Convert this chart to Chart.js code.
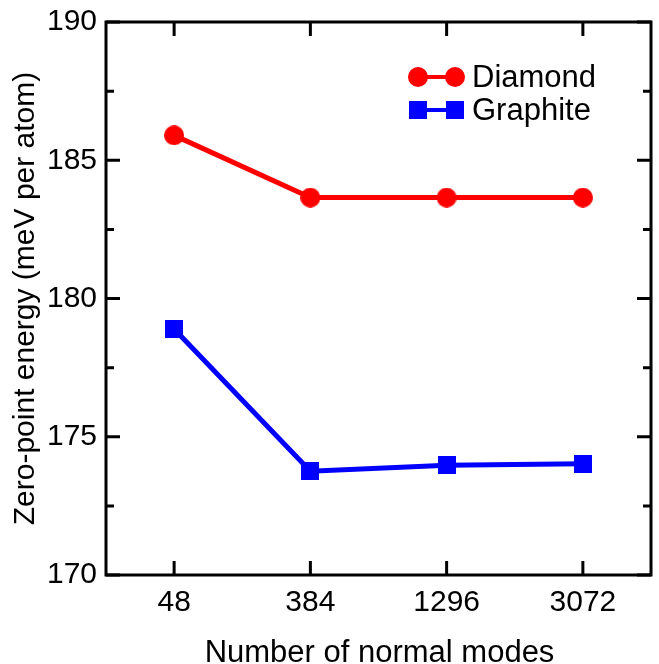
<!DOCTYPE html>
<html>
<head>
<meta charset="utf-8">
<style>
  html, body { margin: 0; padding: 0; background: #fff; }
  #wrap { width: 659px; height: 664px; }
</style>
<script src="https://cdn.jsdelivr.net/npm/chart.js@4/dist/chart.umd.min.js"></script>
</head>
<body>
<div id="wrap"><canvas id="c" width="659" height="664"></canvas></div>
<script>
const modes = ['48', '384', '1296', '3072'];
const diamond = [185.9, 183.65, 183.65, 183.65];
const graphite = [178.9, 173.75, 173.97, 174.02];
const yTicks = [170, 175, 180, 185, 190];

const FONT = '"Liberation Sans", Arial, Helvetica, sans-serif';

// marker images (a big pointRadius would shrink the plot area)
function marker(shape, color, size) {
  const c = document.createElement('canvas');
  c.width = size; c.height = size;
  const g = c.getContext('2d');
  g.fillStyle = color;
  if (shape === 'circle') {
    g.beginPath(); g.arc(size / 2, size / 2, size / 2, 0, Math.PI * 2); g.fill();
  } else {
    g.fillRect(0, 0, size, size);
  }
  return c;
}
const redDot = marker('circle', '#ff0000', 20);
const blueSquare = marker('square', '#0000ff', 18);

// box, inward ticks, axis titles and the legend inside the plot
const framePlugin = {
  id: 'frame',
  afterDraw(chart) {
    const ctx = chart.ctx;
    const a = chart.chartArea;
    const x = chart.scales.x, y = chart.scales.y;
    ctx.save();
    ctx.strokeStyle = '#000';
    ctx.lineWidth = 3;
    ctx.strokeRect(a.left, a.top, a.right - a.left, a.bottom - a.top);

    ctx.beginPath();
    for (let v = 170; v <= 190; v += 2.5) {
      const py = y.getPixelForValue(v);
      const len = (v % 5 === 0) ? 14 : 8;
      ctx.moveTo(a.left, py); ctx.lineTo(a.left + len, py);
      ctx.moveTo(a.right, py); ctx.lineTo(a.right - len, py);
    }
    modes.forEach((m, i) => {
      const px = x.getPixelForValue(i);
      ctx.moveTo(px, a.bottom); ctx.lineTo(px, a.bottom - 14);
      ctx.moveTo(px, a.top); ctx.lineTo(px, a.top + 14);
    });
    ctx.stroke();

    // axis titles
    ctx.fillStyle = '#000';
    ctx.textAlign = 'center';
    ctx.textBaseline = 'alphabetic';
    ctx.font = '31px ' + FONT;
    ctx.fillText('Number of normal modes', (a.left + a.right) / 2 + 1, 662);

    ctx.save();
    ctx.translate(34, (a.top + a.bottom) / 2);
    ctx.rotate(-Math.PI / 2);
    ctx.font = '30px ' + FONT;
    ctx.fillText('Zero-point energy (meV per atom)', 0, 0);
    ctx.restore();

    // legend
    const items = [
      { label: 'Diamond', color: '#ff0000', img: redDot },
      { label: 'Graphite', color: '#0000ff', img: blueSquare }
    ];
    const lx0 = a.left + 312, lx1 = a.left + 349;
    items.forEach((it, i) => {
      const ly = a.top + 55 + i * 33;
      ctx.strokeStyle = it.color;
      ctx.lineWidth = 4;
      ctx.beginPath();
      ctx.moveTo(lx0, ly); ctx.lineTo(lx1, ly);
      ctx.stroke();
      [lx0, lx1].forEach(px => {
        ctx.drawImage(it.img, px - it.img.width / 2, ly - it.img.height / 2);
      });
      ctx.fillStyle = '#000';
      ctx.font = '31px ' + FONT;
      ctx.textBaseline = 'middle';
      ctx.textAlign = 'left';
      ctx.fillText(it.label, lx1 + 17, ly + 1);
    });
    ctx.restore();
  }
};

new Chart(document.getElementById('c'), {
  type: 'line',
  data: {
    labels: modes,
    datasets: [
      {
        label: 'Diamond',
        data: diamond,
        borderColor: '#ff0000',
        backgroundColor: '#ff0000',
        borderWidth: 5,
        pointStyle: redDot,
        pointRadius: 3,
        pointHoverRadius: 3
      },
      {
        label: 'Graphite',
        data: graphite,
        borderColor: '#0000ff',
        backgroundColor: '#0000ff',
        borderWidth: 5,
        pointStyle: blueSquare,
        pointRadius: 3,
        pointHoverRadius: 3
      }
    ]
  },
  options: {
    responsive: false,
    animation: false,
    events: [],
    layout: { padding: { top: 22, right: -7, left: 0, bottom: 0 } },
    plugins: {
      legend: { display: false },
      tooltip: { enabled: false }
    },
    scales: {
      x: {
        type: 'category',
        offset: true,
        grid: { display: false, drawTicks: false },
        border: { display: false },
        ticks: { color: '#000', font: { family: FONT, size: 30 }, padding: 10, maxRotation: 0 },
        afterFit(s) { s.height = 89; s.paddingLeft = 0; s.paddingRight = 0; }
      },
      y: {
        min: 170,
        max: 190,
        afterBuildTicks(s) { s.ticks = yTicks.map(v => ({ value: v })); },
        grid: { display: false, drawTicks: false },
        border: { display: false },
        ticks: { color: '#000', font: { family: FONT, size: 30 }, padding: 9 },
        afterFit(s) { s.width = 106; s.paddingTop = 0; s.paddingBottom = 0; }
      }
    }
  },
  plugins: [framePlugin]
});
</script>
</body>
</html>
